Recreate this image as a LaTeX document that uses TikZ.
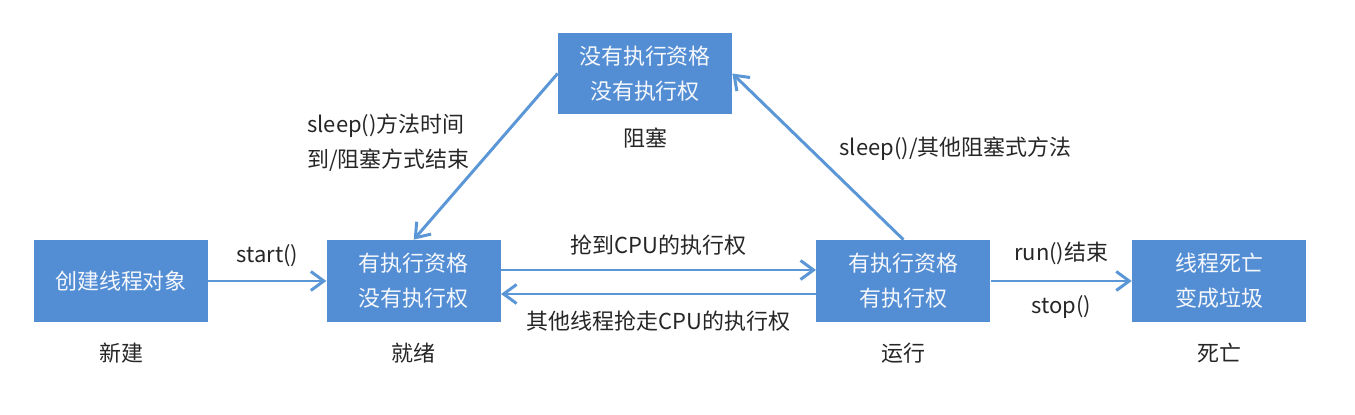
\documentclass[tikz,border=0pt]{standalone}
\usepackage{fontspec}
\setmainfont{Noto Sans CJK SC}
\usepackage{xcolor}
\usepackage{tikz}
\usetikzlibrary{arrows.meta,calc,positioning}
\definecolor{stateblue}{RGB}{83,142,213}
\definecolor{arrowblue}{RGB}{91,151,214}
\definecolor{labelgrey}{RGB}{38,38,38}
\definecolor{boxwhite}{RGB}{246,248,252}
\tikzset{
  statebox/.style={rectangle,fill=stateblue,text=boxwhite,
    minimum width=3.48cm,minimum height=1.64cm,inner sep=0pt,align=center,
    font=\fontsize{12.5}{20}\selectfont},
  caption/.style={text=labelgrey,inner sep=0pt,
    font=\fontsize{12.5}{20}\selectfont},
  edgelabel/.style={text=labelgrey,inner sep=0pt,align=left,
    font=\fontsize{12.5}{20}\selectfont},
  flow/.style={-{Straight Barb[length=2.6mm,width=3.8mm]},line width=1.7pt,
    draw=arrowblue}
}

\begin{document}
\begin{tikzpicture}
  \useasboundingbox (0,0) rectangle (27.1,8.28);
  % states
  \node[statebox] (new) at (2.42,2.66) {创建线程对象};
  \node[statebox,right=2.36cm of new] (ready) {有执行资格\\没有执行权};
  \node[statebox,right=6.3cm of ready] (run) {有执行资格\\有执行权};
  \node[statebox,right=2.82cm of run] (dead) {线程死亡\\变成垃圾};
  \node[statebox,minimum height=1.62cm] (blocked) at (12.9,6.81) {没有执行资格\\没有执行权};
  % captions
  \node[caption,below=0.4cm of new] (newcap) {新建};
  \node[caption,below=0.4cm of ready] (readycap) {就绪};
  \node[caption,below=0.4cm of run] (runcap) {运行};
  \node[caption,below=0.4cm of dead] (deadcap) {死亡};
  \node[caption,below=0.26cm of blocked] (blockedcap) {阻塞};
  % transitions
  \draw[flow] (new) -- (ready)
    node[edgelabel,midway,above=0.26cm] (startlbl) {start()};
  \draw[flow] ([yshift=0.22cm]ready.east) -- ([yshift=0.22cm]run.west)
    node[edgelabel,midway,above=0.27cm] (grablbl) {抢到CPU的执行权};
  \draw[flow] ([yshift=-0.26cm]run.west) -- ([yshift=-0.26cm]ready.east)
    node[edgelabel,midway,below=0.3cm] (losslbl) {其他线程抢走CPU的执行权};
  \draw[flow] (run) -- (dead)
    node[edgelabel,midway,above=0.29cm] (endlbl) {run()结束}
    node[edgelabel,midway,below=0.26cm] (stoplbl) {stop()};
  \draw[flow] (run.north) -- (blocked.east)
    node[edgelabel,pos=0.545,right=0.56cm] (sleeplbl) {sleep()/其他阻塞式方法};
  \draw[flow] (blocked.west) -- (ready.north)
    node[edgelabel,pos=0.6,anchor=south east] (wakelbl) {sleep()方法时间\\到/阻塞方式结束};
\end{tikzpicture}
\end{document}
